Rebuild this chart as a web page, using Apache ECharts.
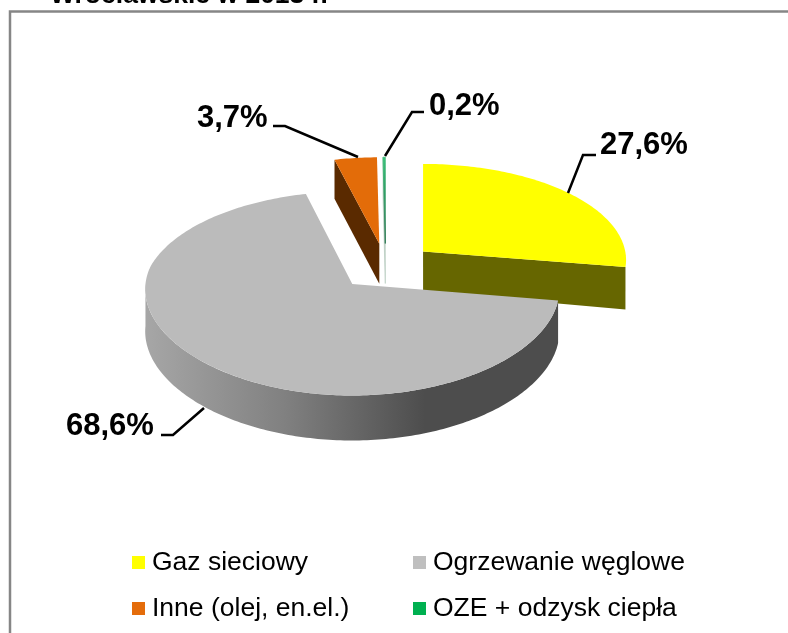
<!DOCTYPE html>
<html>
<head>
<meta charset="utf-8">
<style>html,body{margin:0;padding:0;background:#fff}#c{width:788px;height:633px}</style>
<script src="https://cdn.jsdelivr.net/npm/echarts@6/dist/echarts.min.js"></script>
</head>
<body>
<div id="c"></div>
<script>
// --- data ---
const categories = ['Gaz sieciowy', 'Ogrzewanie węglowe', 'Inne (olej, en.el.)', 'OZE + odzysk ciepła'];
const values = [27.6, 68.6, 3.7, 0.2];
const titleText = 'Wrocławskie w 2013 r.';

// --- styling and layout ---
const topColors = ['#FFFF00', '#BBBBBB', '#E36C09', '#2FB872'];
const legendColors = ['#FFFF00', '#BFBFBF', '#E46C0A', '#00B050'];
const wallColors = ['#666600', '#4D4D4D', '#5A2A00', '#B5C9BD'];
const labelBoxes = [[600, 145], [66, 426], [197, 118], [429, 106]];
const leaderLines = [
  [[568, 193], [583, 155], [596, 155]],
  [[204, 408], [173, 435], [161, 435]],
  [[358, 157], [285, 126], [273, 126]],
  [[385, 156], [412, 112], [424, 112]]
];
const drawOrder = [0, 3, 2, 1];

const CX = 385.6, CY = 266.5, R = 205, A = 98, PERSP = 0.09, EXPLODE = 0.24;
const RAD = Math.PI / 180;
const total = values.reduce((a, b) => a + b, 0);

function sliceAngles(i) {
  let s = 0;
  for (let k = 0; k < i; k++) s += values[k];
  return [s / total * 360, (s + values[i]) / total * 360];
}
function wallH(v) { return 42 - 3 * v; }
// ou, ov: slice's explosion offset; u, v: position on the unit circle
function project(ou, ov, u, v) {
  const wv = ov + v;
  const k = 1 / (1 + PERSP * wv);
  const kx = 1 / (1 + (wv < 0 ? 0.05 : PERSP) * wv);
  return [CX + R * (ou + u * kx), CY - A * wv * k];
}
function rim(deg, mid, down) {
  const u = Math.sin(deg * RAD), v = Math.cos(deg * RAD);
  const p = project(EXPLODE * Math.sin(mid), EXPLODE * Math.cos(mid), u, v);
  if (down) p[1] += wallH(v);
  return p;
}
function arc(a, b, mid, down) {
  const pts = [], n = Math.max(1, Math.ceil(Math.abs(b - a)));
  for (let i = 0; i <= n; i++) pts.push(rim(a + (b - a) * i / n, mid, down));
  return pts;
}
function formatLabel(v) { return v.toFixed(1).replace('.', ',') + '%'; }

function renderer(i) {
  return function (params, api) {
    const [a, b] = sliceAngles(i);
    const mid = (a + b) / 2 * RAD;
    const apex = project(EXPLODE * Math.sin(mid), EXPLODE * Math.cos(mid), 0, 0);
    const apexDown = [apex[0], apex[1] + 40];
    const children = [];
    const wall = wallColors[i];
    const poly = (points, fill, strokeW, strokeColor) => children.push({
      type: 'polygon', shape: { points },
      style: { fill, stroke: strokeW ? (strokeColor || fill) : null, lineWidth: strokeW || 0 }
    });
    // radial cut faces turned to the viewer
    if (Math.cos(b * RAD) < 0 && Math.sin(b * RAD) > 0) {
      poly([apex, rim(b, mid), rim(b, mid, true), apexDown], wall);
    }
    if (Math.sin(a * RAD) < 0 && Math.cos(a * RAD) > 0) {
      poly([apex, rim(a, mid), rim(a, mid, true), apexDown], wall, i === 3 ? 0.6 : 0);
    }
    // outer rim wall (only the large slice shows one)
    const s = Math.max(a, 90), e = Math.min(b, 270);
    if (e - s > 20) {
      const fill = new echarts.graphic.LinearGradient(147, 0, 425, 0, [
        { offset: 0, color: '#A6A6A6' },
        { offset: 0.5, color: '#808080' },
        { offset: 1, color: '#4D4D4D' }
      ], true);
      poly(arc(s, e, mid, false).concat(arc(e, s, mid, true)), fill);
    }
    // top face
    if (i === 3) {
      const fade = new echarts.graphic.LinearGradient(0, 156, 0, 243, [
        { offset: 0, color: '#3CC07A' },
        { offset: 1, color: '#1F7048' }
      ], true);
      poly([apex].concat(arc(a, b, mid, false)), fade, 0.8, fade);
    } else {
      poly([apex].concat(arc(a, b, mid, false)), topColors[i]);
    }
    // leader line and value label
    children.push({
      type: 'polyline', shape: { points: leaderLines[i] },
      style: { stroke: '#000', lineWidth: 2.5, fill: null }
    });
    children.push({
      type: 'text',
      style: {
        text: formatLabel(values[i]), x: labelBoxes[i][0], y: labelBoxes[i][1],
        fill: '#000', font: 'bold 31px "Liberation Sans", Arial, sans-serif',
        align: 'left', verticalAlign: 'middle'
      }
    });
    return { type: 'group', children };
  };
}

const series = drawOrder.map(i => ({
  type: 'custom',
  name: categories[i],
  coordinateSystem: 'none',
  silent: true,
  animation: false,
  itemStyle: { color: legendColors[i] },
  data: [values[i]],
  renderItem: renderer(i),
  z: 2
}));

const legendText = {
  fontFamily: '"Liberation Sans", Arial, sans-serif',
  fontSize: 26.5, color: '#000', padding: [0, 0, 0, 2]
};
const chart = echarts.init(document.getElementById('c'), null, { renderer: 'canvas' });
chart.setOption({
  animation: false,
  backgroundColor: '#fff',
  title: {
    text: titleText, left: 45, top: -23,
    textStyle: { fontFamily: '"Liberation Sans", Arial, sans-serif', fontSize: 26.5, fontWeight: 'bold', color: '#000' }
  },
  legend: [
    { left: 127, top: 544, orient: 'vertical', icon: 'rect', itemWidth: 13, itemHeight: 13, itemGap: 19,
      selectedMode: false, data: [categories[0], categories[2]], textStyle: legendText },
    { left: 408, top: 544, orient: 'vertical', icon: 'rect', itemWidth: 13, itemHeight: 13, itemGap: 19,
      selectedMode: false, data: [categories[1], categories[3]], textStyle: legendText }
  ],
  graphic: [{
    type: 'polyline', silent: true, z: 0,
    shape: { points: [[10, 633], [10, 11.5], [788, 11.5]] },
    style: { stroke: '#868686', lineWidth: 2.5, fill: null }
  }],
  series
});
</script>
</body>
</html>
